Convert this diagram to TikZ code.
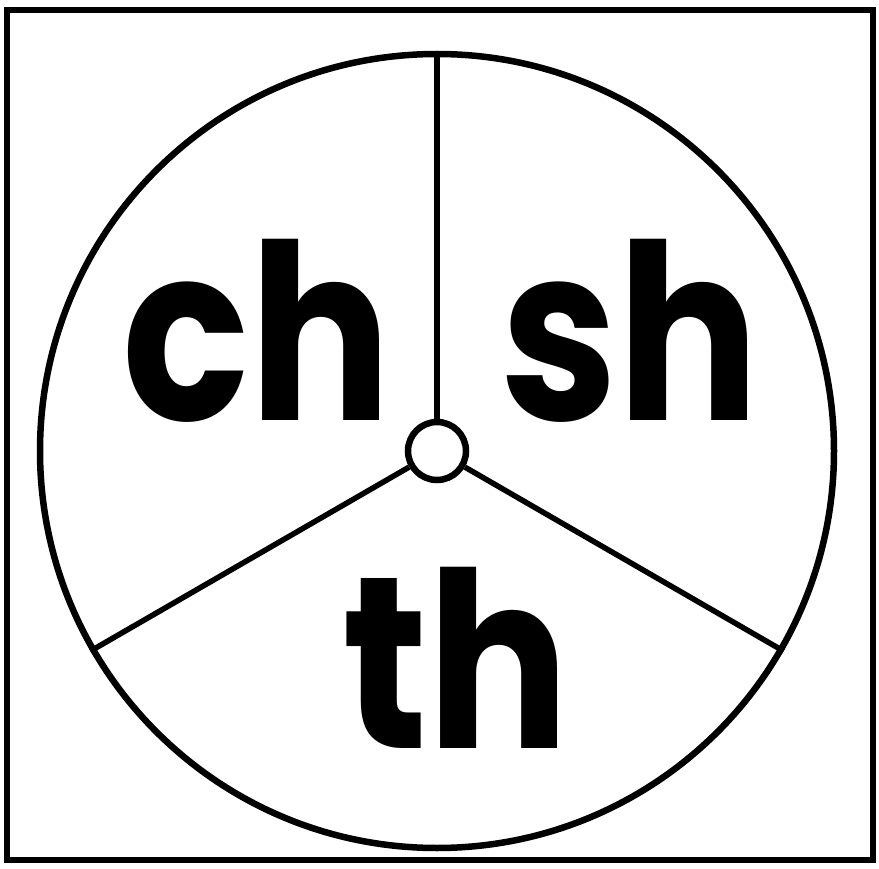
\documentclass[tikz,border=0pt]{standalone}
\usepackage{fontspec}
\setmainfont{Poppins}
\begin{document}
\begin{tikzpicture}[x=1pt,y=-1pt,
  heavy/.style={line width=6.5pt},
  spoke/.style={line width=5.5pt},
  lbl/.style={anchor=base,inner sep=0pt,xscale=0.86,font=\fontsize{245}{245}\selectfont\bfseries}]
\useasboundingbox (0,0) rectangle (879,869);
\draw[heavy] (7,10) rectangle (873,860);
\coordinate (c) at (437,451);
\node[draw,heavy,circle,minimum size=794pt,inner sep=0pt] (big) at (c) {};
\node[draw,heavy,circle,fill=white,minimum size=58pt,inner sep=0pt] (hub) at (c) {};
\draw[spoke] (hub.90) -- (big.90);
\draw[spoke] (hub.210) -- (big.210);
\draw[spoke] (hub.330) -- (big.330);
\node[lbl] (ch) at (257,420) {ch};
\node[lbl] (sh) at (630,420) {sh};
\node[lbl] (th) at (456,748) {th};
\end{tikzpicture}
\end{document}
